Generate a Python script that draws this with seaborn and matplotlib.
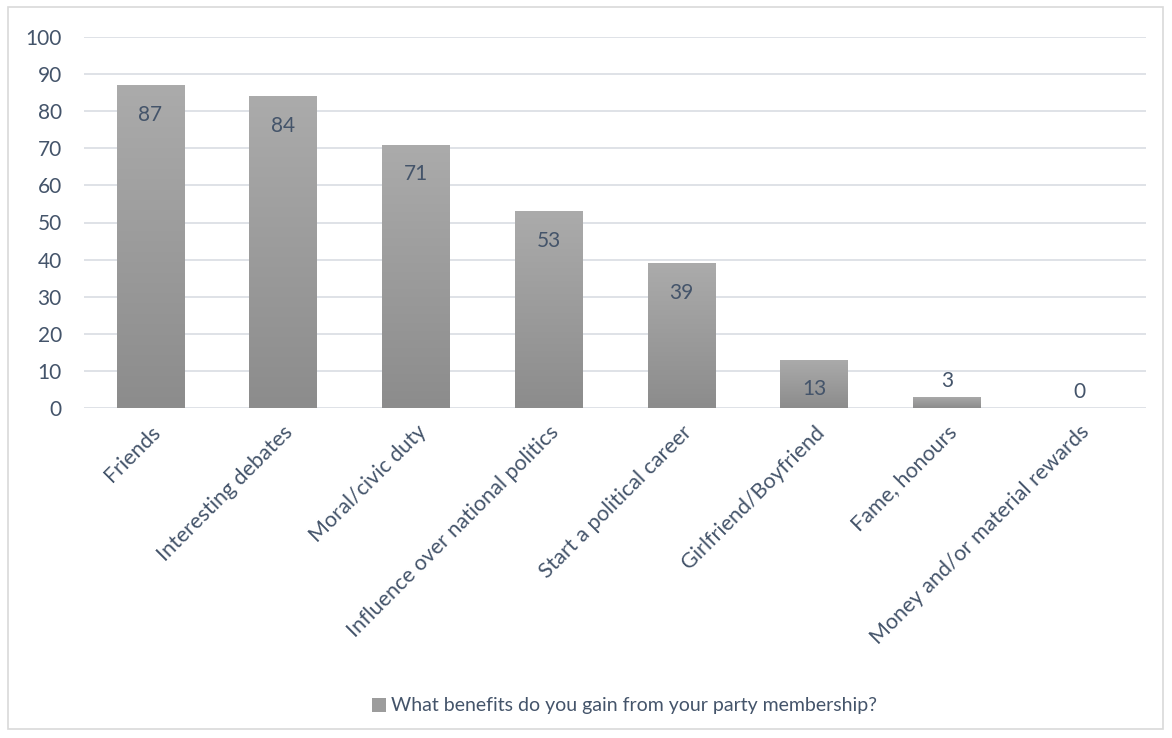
import matplotlib
matplotlib.use("Agg")
import matplotlib.pyplot as plt
import seaborn as sns
import numpy as np
import pandas as pd
from matplotlib.patches import Rectangle, Patch
from matplotlib.colors import LinearSegmentedColormap

categories = ["Friends", "Interesting debates", "Moral/civic duty",
              "Influence over national politics", "Start a political career",
              "Girlfriend/Boyfriend", "Fame, honours", "Money and/or material rewards"]
values = [87, 84, 71, 53, 39, 13, 3, 0]
series_name = "What benefits do you gain from your party membership?"
yticks = [0, 10, 20, 30, 40, 50, 60, 70, 80, 90, 100]

sns.set_theme(style="white")
plt.rcParams['font.family'] = ['Lato', 'DejaVu Sans']

TXT = "#44546a"
GRID = "#d9dde3"

df = pd.DataFrame({"cat": categories, "val": values})

fig = plt.figure(figsize=(11.72, 7.38), dpi=100)
ax = fig.add_axes([84/1172, 1-408/738, (1146-84)/1172, (408-37)/738])

sns.barplot(data=df, x="cat", y="val", ax=ax, color="#a0a0a0", width=0.51,
            saturation=1, edgecolor="none")

# gradient fill clipped to bars
grad = np.linspace(0, 1, 256).reshape(-1, 1)
cmap = LinearSegmentedColormap.from_list("g", ["#8c8c8c", "#ababab"])
for p in ax.patches:
    x0, y0 = p.get_x(), p.get_y()
    w, h = p.get_width(), p.get_height()
    if h <= 0:
        continue
    im = ax.imshow(grad, extent=[x0, x0 + w, y0, y0 + h], origin="lower",
                   cmap=cmap, aspect="auto", zorder=p.get_zorder() + 0.1)
    im.set_clip_path(p)

ax.set_xlim(-0.5, len(categories) - 0.5)
ax.set_ylim(0, 100)
ax.set_yticks(yticks)
ax.set_yticklabels([str(t) for t in yticks], color=TXT, fontsize=15)
ax.set_xlabel("")
ax.set_ylabel("")
ax.grid(axis="y", color=GRID, linewidth=1.2)
ax.set_axisbelow(True)
for s in ax.spines.values():
    s.set_visible(False)
ax.tick_params(axis="y", length=0, pad=16)
ax.tick_params(axis="x", length=0, pad=10)
ax.set_xticks(range(len(categories)))
ax.set_xticklabels(categories, rotation=45, ha="right", rotation_mode="anchor",
                   color=TXT, fontsize=15.5)

# data labels
for i, v in enumerate(values):
    if v >= 10:
        ax.annotate(str(v), (i, v), xytext=(0, -14), textcoords="offset points",
                    ha="center", va="top", color=TXT, fontsize=15)
    else:
        ax.annotate(str(v), (i, v), xytext=(0, 4), textcoords="offset points",
                    ha="center", va="bottom", color=TXT, fontsize=15)

# legend
handle = Patch(facecolor="#9c9c9c", edgecolor="none")
fig.legend([handle], [series_name], loc="center", bbox_to_anchor=(0.533, 1-706/738),
           frameon=False, fontsize=14, labelcolor=TXT, handlelength=0.7,
           handleheight=0.7, handletextpad=0.3)

# chart border
fig.patches.append(Rectangle((8/1172, 1-729/738), (1163-8)/1172, (729-7)/738,
                             transform=fig.transFigure, fill=False,
                             edgecolor="#d9d9d9", linewidth=1.2))

fig.savefig("out.png", dpi=100)
